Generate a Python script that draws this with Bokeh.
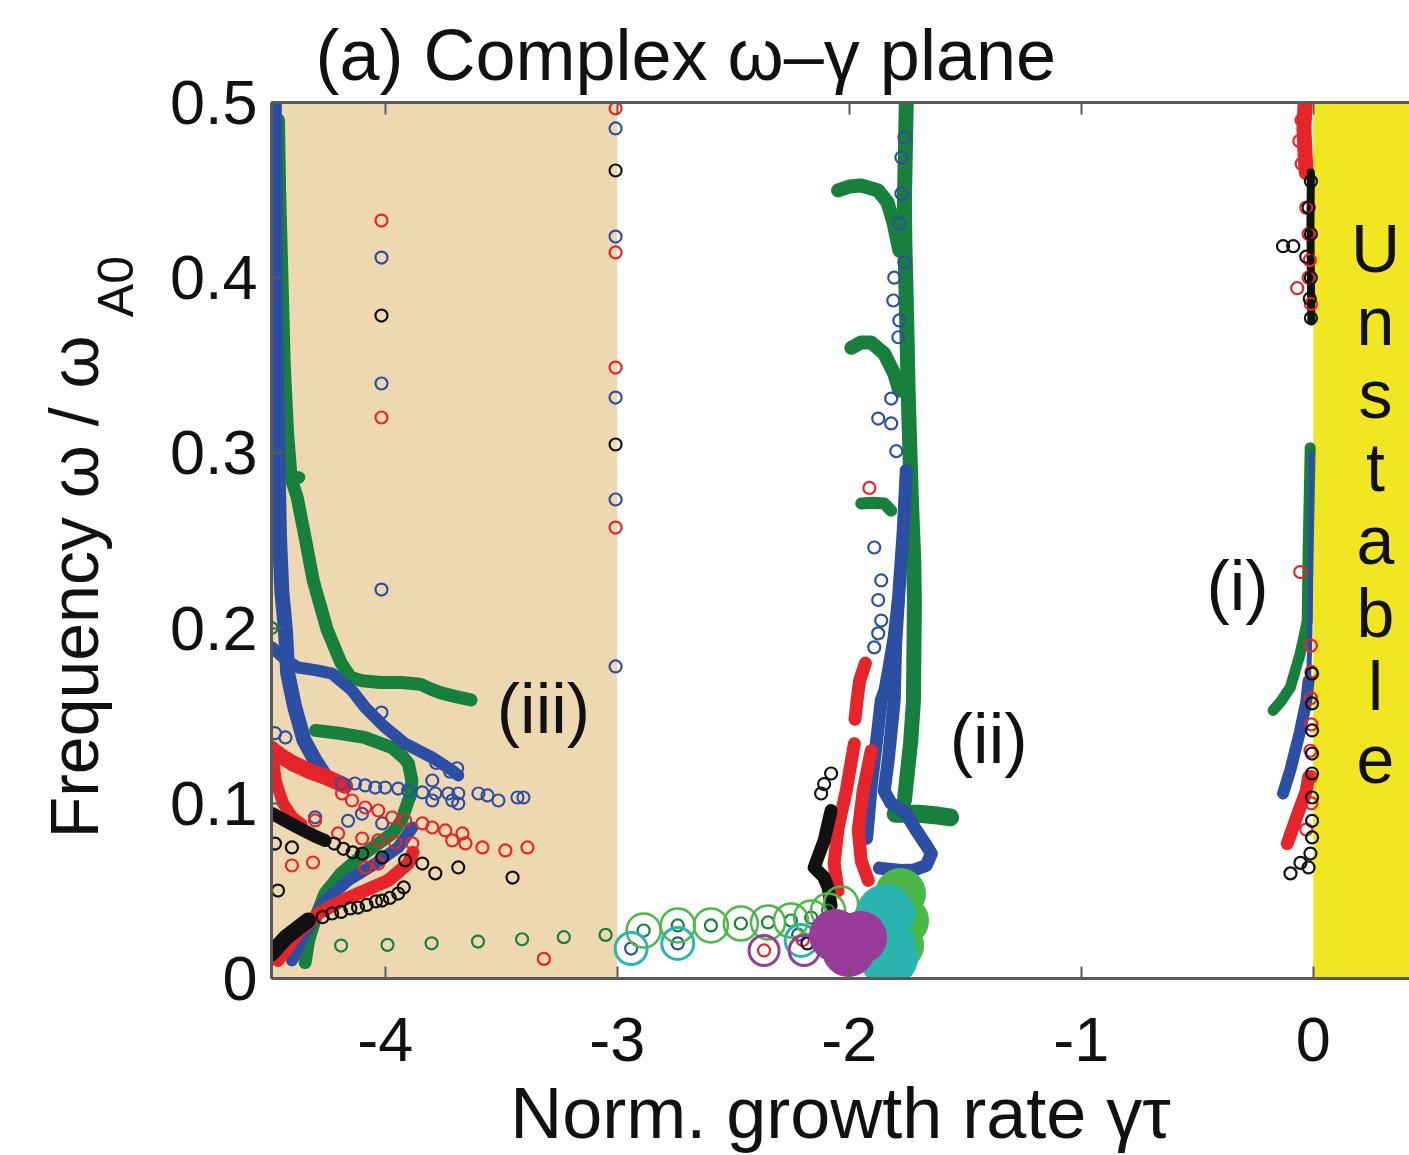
import math
from bokeh.plotting import figure
from bokeh.layouts import row
from bokeh.models import Range1d, FixedTicker, Label, LinearAxis
from bokeh.embed import file_html
from bokeh.resources import INLINE
from bokeh.core.properties import value

FONT = "Liberation Sans"

# ---------------- axes / ticks ----------------
x_ticks = [-4, -3, -2, -1, 0]
x_tick_labels = ["-4", "-3", "-2", "-1", "0"]
y_ticks = [0, 0.1, 0.2, 0.3, 0.4, 0.5]
y_tick_labels = ["0", "0.1", "0.2", "0.3", "0.4", "0.5"]

# shaded regions (x extents)
damped_band = [-4.6, -3.0]
unstable_band = [0.0, 0.6]

# ---------------- dense traces (left, region iii) ----------------
green_a_x = [-4.46, -4.455, -4.445, -4.435, -4.42, -4.405, -4.38, -4.35, -4.31, -4.25, -4.19, -4.15, -4.10, -4.02, -3.93, -3.85, -3.80, -3.76, -3.70, -3.63]
green_a_y = [0.49, 0.45, 0.40, 0.35, 0.31, 0.285, 0.275, 0.255, 0.227, 0.199, 0.18, 0.172, 0.170, 0.169, 0.169, 0.168, 0.165, 0.163, 0.161, 0.159]
green_spur_x = [-4.42, -4.37]
green_spur_y = [0.287, 0.286]
green_b_x = [-4.30, -4.20, -4.09, -3.97, -3.92, -3.90, -3.885, -3.89, -3.90, -3.93, -3.97, -4.03, -4.09, -4.19, -4.26, -4.30, -4.33, -4.345]
green_b_y = [0.1416, 0.140, 0.1376, 0.1318, 0.126, 0.1227, 0.113, 0.105, 0.1016, 0.090, 0.0828, 0.077, 0.0713, 0.060, 0.0485, 0.0348, 0.0217, 0.0091]

blue_a_x = [-4.478, -4.475, -4.474, -4.47, -4.465, -4.46, -4.455, -4.445, -4.43, -4.42, -4.39, -4.35, -4.30, -4.26]
blue_a_y = [0.50, 0.45, 0.40, 0.35, 0.31, 0.28, 0.25, 0.22, 0.199, 0.174, 0.155, 0.136, 0.124, 0.116]
blue_c_x = [-4.488, -4.43, -4.376, -4.30, -4.229, -4.143, -4.086, -4.0, -3.914, -3.797, -3.711, -3.685]
blue_c_y = [0.189, 0.182, 0.1775, 0.176, 0.174, 0.1644, 0.1547, 0.1433, 0.1341, 0.1261, 0.1187, 0.1159]
blue_d_x = [-4.402, -4.333, -4.259, -4.16, -4.043, -3.944, -3.883]
blue_d_y = [0.0103, 0.0291, 0.0445, 0.056, 0.0656, 0.0748, 0.0862]

red_a_x = [-4.497, -4.45, -4.397, -4.32, -4.251, -4.173]
red_a_y = [0.1318, 0.127, 0.1227, 0.118, 0.1147, 0.110]
red_c_x = [-4.49, -4.47, -4.44, -4.40, -4.36]
red_c_y = [0.13, 0.112, 0.100, 0.092, 0.088]
red_b_x = [-4.462, -4.376, -4.289, -4.186, -4.086, -3.987, -3.901, -3.88]
red_b_y = [0.0103, 0.0257, 0.0371, 0.0445, 0.0502, 0.0559, 0.0656, 0.072]

black_a_x = [-4.488, -4.43, -4.376, -4.30, -4.259]
black_a_y = [0.0942, 0.090, 0.0862, 0.081, 0.0788]
black_b_x = [-4.49, -4.428, -4.333]
black_b_y = [0.0143, 0.0234, 0.0331]

# ---------------- dense traces (middle, region ii) ----------------
green_m_x = [-1.754, -1.762, -1.760, -1.754, -1.745, -1.732, -1.722, -1.719, -1.723, -1.735, -1.745, -1.762]
green_m_y = [0.5, 0.444, 0.42, 0.387, 0.33, 0.273, 0.24, 0.216, 0.1587, 0.135, 0.1227, 0.1016]
green_foot_x = [-1.80, -1.70, -1.62, -1.565]
green_foot_y = [0.094, 0.094, 0.093, 0.092]
green_hook1_x = [-2.048, -2.00, -1.948, -1.875, -1.835, -1.810, -1.784]
green_hook1_y = [0.4498, 0.452, 0.4526, 0.4498, 0.443, 0.432, 0.4155]
green_hook2_x = [-1.991, -1.95, -1.905, -1.849, -1.806, -1.784]
green_hook2_y = [0.360, 0.363, 0.363, 0.3567, 0.3453, 0.3356]
green_hook3_x = [-1.948, -1.90, -1.849, -1.819]
green_hook3_y = [0.2711, 0.2715, 0.2711, 0.267]

blue_m1_x = [-1.754, -1.767, -1.788, -1.806, -1.825, -1.845, -1.862, -1.878, -1.892, -1.905, -1.918, -1.925]
blue_m1_y = [0.29, 0.2557, 0.216, 0.195, 0.18, 0.165, 0.1587, 0.14, 0.1244, 0.11, 0.0902, 0.08]
blue_m2_x = [-1.788, -1.800, -1.806, -1.82, -1.832, -1.849, -1.82, -1.76, -1.711, -1.668, -1.646, -1.668, -1.72, -1.775, -1.84, -1.87]
blue_m2_y = [0.216, 0.19, 0.1587, 0.14, 0.1244, 0.107, 0.100, 0.095, 0.0845, 0.076, 0.0713, 0.0645, 0.062, 0.0616, 0.0625, 0.063]

red_m1_x = [-1.93, -1.955, -1.965, -1.975]
red_m1_y = [0.180, 0.17, 0.16, 0.148]
red_m2_x = [-1.978, -2.013, -2.048, -2.065, -2.048]
red_m2_y = [0.134, 0.107, 0.086, 0.0656, 0.050]
red_m3_x = [-1.905, -1.94, -1.961, -1.948, -1.918]
red_m3_y = [0.130, 0.107, 0.0845, 0.067, 0.056]
black_m_x = [-2.078, -2.108, -2.151, -2.11, -2.091, -2.078]
black_m_y = [0.0959, 0.0788, 0.0634, 0.058, 0.052, 0.0417]

# ---------------- dense traces (right, region i) ----------------
green_r_x = [-0.013, -0.018, -0.022, -0.026, -0.04, -0.056, -0.099, -0.14, -0.173]
green_r_y = [0.303, 0.27, 0.244, 0.204, 0.195, 0.1855, 0.166, 0.158, 0.153]
blue_r1_x = [-0.008, -0.010, -0.012, -0.015, -0.02]
blue_r1_y = [0.30, 0.26, 0.22, 0.19, 0.17]
blue_r2_x = [-0.02, -0.03, -0.056, -0.099, -0.13]
blue_r2_y = [0.17, 0.158, 0.1415, 0.1187, 0.1056]
red_r_x = [-0.02, -0.03, -0.069, -0.112]
red_r_y = [0.115, 0.107, 0.093, 0.077]
red_r_top_x = [-0.035, -0.04, -0.035, -0.03]
red_r_top_y = [0.5, 0.485, 0.47, 0.46]
black_r_top_x = [-0.01, -0.012, -0.01, -0.008]
black_r_top_y = [0.46, 0.43, 0.40, 0.375]

# ---------------- individual eigenvalues (open circles) ----------------
red_pts_x = [-4.016, -4.016, -3.007, -3.007, -3.007, -3.007, -3.316,
             -4.186, -4.143, -4.086, -4.03, -3.97, -3.914, -3.84, -3.797, -3.741, -3.667,
             -4.302, -4.203, -4.099, -4.03, -3.957, -3.883, -3.711, -3.654, -3.581, -3.482, -3.387,
             -4.402, -4.311, -4.086, -4.03,
             -1.913, -2.20, -2.367,
             -0.069, -0.056, -0.01, -0.008, -0.01, -0.008, -0.012, -0.01, -0.008, -0.03,
             -0.05, -0.06, -0.05, -0.03, -0.02, -0.015, -0.02, -0.01]
red_pts_y = [0.4326, 0.3202, 0.4966, 0.4144, 0.3487, 0.2574, 0.0112,
             0.1056, 0.1016, 0.0976, 0.0959, 0.0919, 0.0902, 0.0885, 0.0862, 0.0845, 0.0828,
             0.0902, 0.0828, 0.0799, 0.0788, 0.0776, 0.0771, 0.0788, 0.0771, 0.0748, 0.0731, 0.0748,
             0.0645, 0.0662, 0.0634, 0.0656,
             0.280, 0.022, 0.016,
             0.394, 0.232, 0.19, 0.175, 0.16, 0.145, 0.13, 0.115, 0.10, 0.085,
             0.49, 0.478, 0.465, 0.44, 0.425, 0.41, 0.40, 0.385]

blue_pts_x = [-4.016, -4.016, -4.016, -4.016,
              -3.007, -3.007, -3.007, -3.007, -3.007,
              -4.186, -4.13, -4.086, -4.043, -4.0, -3.944, -3.901, -3.84, -3.784, -3.728, -3.685, -3.598, -3.559, -3.512, -3.43, -3.404, -3.797, -3.685,
              -4.302, -4.16, -4.10, -4.013, -3.797, -3.711, -4.475, -4.43, -3.78, -3.72, -3.69,
              -1.762, -1.775, -1.775, -1.784, -1.762, -1.806, -1.81, -1.784, -1.788, -1.819, -1.875, -1.819, -1.797,
              -1.892, -1.862, -1.875, -1.862, -1.875, -1.892,
              -2.94, -2.739, -2.22]
blue_pts_y = [0.4115, 0.3396, 0.222, 0.1518,
              0.4852, 0.4235, 0.3316, 0.2734, 0.1781,
              0.1113, 0.1113, 0.1102, 0.109, 0.109, 0.1084, 0.1073, 0.1062, 0.1056, 0.1056, 0.1056, 0.1056, 0.1045, 0.1016, 0.1033, 0.1033, 0.1016, 0.0999,
              0.092, 0.09, 0.094, 0.0885, 0.113, 0.1016, 0.14, 0.1376, 0.123, 0.118, 0.12,
              0.48, 0.4686, 0.448, 0.431, 0.4087, 0.40, 0.387, 0.3756, 0.366, 0.331, 0.3196, 0.3168, 0.301,
              0.246, 0.2272, 0.216, 0.2043, 0.197, 0.189,
              0.0171, 0.020, 0.025]

black_pts_x = [-4.016, -3.007, -3.007,
               -4.475, -4.402, -4.462, -4.099, -4.013, -3.914, -3.84, -3.784, -3.685, -3.451, -4.22, -4.18, -4.14,
               -4.27, -4.229, -4.19, -4.15, -4.117, -4.08, -4.04, -4.013, -3.98, -3.944, -3.92,
               -2.108, -2.121, -2.078, -2.18,
               -0.13, -0.086, -0.01, -0.02, -0.01, -0.03, -0.01, -0.015, -0.01,
               -0.005, -0.005, -0.005, -0.005, -0.005, -0.005, -0.005, -0.005, -0.012, -0.02, -0.055, -0.098]
black_pts_y = [0.3784, 0.4612, 0.3048,
               0.077, 0.0748, 0.0502, 0.0713, 0.0691, 0.0674, 0.0656, 0.060, 0.0634, 0.0576, 0.077, 0.074, 0.072,
               0.035, 0.0371, 0.038, 0.040, 0.0405, 0.042, 0.044, 0.0445, 0.046, 0.0485, 0.052,
               0.111, 0.1056, 0.117, 0.02,
               0.418, 0.418, 0.455, 0.44, 0.425, 0.412, 0.40, 0.388, 0.377,
               0.174, 0.157, 0.1416, 0.1284, 0.117, 0.1033, 0.090, 0.0805, 0.0713, 0.0634, 0.066, 0.060]

green_pts_x = [-4.49, -4.19, -3.99, -3.80, -3.60, -3.41, -3.23, -3.05, -2.886, -2.739, -2.596, -2.467, -2.350, -2.251, -2.164, -2.091]
green_pts_y = [0.2, 0.0188, 0.0192, 0.0201, 0.0211, 0.0224, 0.0236, 0.0249, 0.0274, 0.0303, 0.0303, 0.0314, 0.032, 0.0331, 0.0348, 0.0388]

# large markers near the (ii) cluster
lime_ring_x = [-2.886, -2.739, -2.596, -2.467, -2.350, -2.251, -2.164, -2.091, -2.035]
lime_ring_y = [0.0274, 0.0303, 0.0303, 0.0314, 0.032, 0.0331, 0.0348, 0.0388, 0.0428]
cyan_ring_x = [-2.94, -2.739, -2.207]
cyan_ring_y = [0.0171, 0.020, 0.0217]
purple_ring_x = [-2.367, -2.194]
purple_ring_y = [0.016, 0.016]
lime_blob_x = [-1.779, -1.766, -1.787]
lime_blob_y = [0.0485, 0.033, 0.019]
cyan_blob_x = [-1.843, -1.843, -1.83]
cyan_blob_y = [0.037, 0.020, 0.012]
purple_blob_x = [-2.059, -1.951, -2.003]
purple_blob_y = [0.0245, 0.0234, 0.016]

# ---------------- colours ----------------
C_GREEN = "#17803D"
C_BLUE = "#2D4FA3"
C_RED = "#E8242B"
C_BLACK = "#111111"
C_LIME = "#4CB848"
C_CYAN = "#2BB5B0"
C_PURPLE = "#9A3A9A"
C_TAN = "#EED8B2"
C_YELLOW = "#F0E622"
C_AXIS = "#5a5a5a"
C_TEXT = "#111111"

W = 1409
H = 1155
LEFT_W = 150   # strip holding the rotated y-axis title

p = figure(width=W - LEFT_W, height=H, x_range=Range1d(-4.49, 0.415), y_range=Range1d(0, 0.5),
           output_backend="svg", toolbar_location=None,
           min_border_left=271 - LEFT_W, min_border_right=0, min_border_top=102, min_border_bottom=177)
p.outline_line_color = None
p.grid.visible = False
p.background_fill_color = "white"
p.border_fill_color = "white"

# shaded regions
p.quad(left=[damped_band[0]], right=[damped_band[1]], bottom=[0], top=[0.5], fill_color=C_TAN, line_color=None)
p.quad(left=[unstable_band[0]], right=[unstable_band[1]], bottom=[0], top=[0.5], fill_color=C_YELLOW, line_color=None)

def band(xs, ys, color, w):
    p.line(xs, ys, line_width=w, line_color=color, line_cap="round", line_join="round")

# green first
band(green_a_x, green_a_y, C_GREEN, 13)
band(green_spur_x, green_spur_y, C_GREEN, 12)
band(green_b_x, green_b_y, C_GREEN, 13)
band(green_m_x, green_m_y, C_GREEN, 15)
band(green_foot_x, green_foot_y, C_GREEN, 18)
band(green_hook1_x, green_hook1_y, C_GREEN, 14)
band(green_hook2_x, green_hook2_y, C_GREEN, 14)
band(green_hook3_x, green_hook3_y, C_GREEN, 12)
band(green_r_x, green_r_y, C_GREEN, 11)
# blue
band(blue_a_x, blue_a_y, C_BLUE, 15)
band(blue_c_x, blue_c_y, C_BLUE, 12)
band(blue_d_x, blue_d_y, C_BLUE, 12)
band(blue_m1_x, blue_m1_y, C_BLUE, 13)
band(blue_m2_x, blue_m2_y, C_BLUE, 13)
band(blue_r1_x, blue_r1_y, C_BLUE, 5)
band(blue_r2_x, blue_r2_y, C_BLUE, 12)
# red
band(red_a_x, red_a_y, C_RED, 16)
band(red_c_x, red_c_y, C_RED, 12)
band(red_b_x, red_b_y, C_RED, 13)
band(red_m1_x, red_m1_y, C_RED, 13)
band(red_m2_x, red_m2_y, C_RED, 13)
band(red_m3_x, red_m3_y, C_RED, 13)
band(red_r_x, red_r_y, C_RED, 13)
band(red_r_top_x, red_r_top_y, C_RED, 15)
# black
band(black_a_x, black_a_y, C_BLACK, 13)
band(black_b_x, black_b_y, C_BLACK, 16)
band(black_m_x, black_m_y, C_BLACK, 13)
band(black_r_top_x, black_r_top_y, C_BLACK, 8)

def rings(xs, ys, color, size, lw):
    p.scatter(xs, ys, marker="circle", size=size, fill_color=None, line_color=color, line_width=lw)

rings(green_pts_x, green_pts_y, C_GREEN, 12, 2.2)
rings(blue_pts_x, blue_pts_y, C_BLUE, 12, 2.2)
rings(red_pts_x, red_pts_y, C_RED, 12, 2.2)
rings(black_pts_x, black_pts_y, C_BLACK, 12, 2.2)
rings(lime_ring_x, lime_ring_y, C_LIME, 34, 2.5)
rings(cyan_ring_x, cyan_ring_y, C_CYAN, 32, 3)
rings(purple_ring_x, purple_ring_y, C_PURPLE, 30, 3)

p.scatter(lime_blob_x, lime_blob_y, marker="circle", size=50, fill_color=C_LIME, line_color=C_LIME)
p.scatter(cyan_blob_x, cyan_blob_y, marker="circle", size=58, fill_color=C_CYAN, line_color=C_CYAN)
p.scatter(purple_blob_x, purple_blob_y, marker="circle", size=52, fill_color=C_PURPLE, line_color=C_PURPLE)

# ---------------- axes ----------------
def style_axis(ax):
    ax.axis_line_color = C_AXIS
    ax.axis_line_width = 3
    ax.major_tick_line_color = C_AXIS
    ax.major_tick_line_width = 2
    ax.major_tick_in = 12
    ax.major_tick_out = 0
    ax.minor_tick_line_color = None
    ax.major_label_text_font = FONT
    ax.major_label_text_font_size = "63px"
    ax.major_label_text_color = C_TEXT

xa = p.xaxis[0]
xa.ticker = FixedTicker(ticks=x_ticks)
xa.major_label_overrides = {t: l for t, l in zip(x_ticks, x_tick_labels)}
style_axis(xa)
xa.major_label_standoff = 39
xa.axis_label = "Norm. growth rate \u03b3\u03c4"
xa.axis_label_text_font = FONT
xa.axis_label_text_font_size = "72px"
xa.axis_label_text_font_style = "normal"
xa.axis_label_text_color = C_TEXT
xa.axis_label_standoff = 9

ya = p.yaxis[0]
ya.ticker = FixedTicker(ticks=y_ticks)
ya.major_label_overrides = {t: l for t, l in zip(y_ticks, y_tick_labels)}
style_axis(ya)
ya.major_label_standoff = 14

top = LinearAxis(ticker=FixedTicker(ticks=x_ticks))
style_axis(top)
top.major_label_text_font_size = "1px"
top.major_label_text_color = None
top.major_label_standoff = 0
p.add_layout(top, "above")

p.title.text = "(a) Complex \u03c9\u2013\u03b3 plane"
p.title.text_font = FONT
p.title.text_font_size = "72px"
p.title.text_font_style = "normal"
p.title.text_color = C_TEXT
p.title.align = "left"
p.title.vertical_align = "bottom"
p.title.offset = 44
p.title.standoff = 16

# ---------------- texts inside the frame ----------------
def lab(x, y, text, size):
    p.add_layout(Label(x=x, y=y, text=text, text_font=FONT, text_font_size=size,
                       text_align="center", text_baseline="alphabetic", text_color=C_TEXT))

lab(-0.326, 0.224, "(i)", "70px")
lab(-1.399, 0.1367, "(ii)", "70px")
lab(-3.318, 0.1538, "(iii)", "70px")

unstable_letters = list("Unstable")
for i, ch in enumerate(unstable_letters):
    lab(0.2686, 0.4167 - 0.04167 * i, ch, "68px")

# ---------------- y-axis title strip (pixel coordinates, origin bottom-left) ----------------
q = figure(width=LEFT_W, height=H, x_range=Range1d(0, LEFT_W), y_range=Range1d(0, H),
           output_backend="svg", toolbar_location=None, x_axis_location=None, y_axis_location=None,
           min_border=0)
q.outline_line_color = None
q.grid.visible = False
q.text(x=[73], y=[H - 307], text=["Frequency \u03c9 / \u03c9"], angle=math.pi / 2,
       text_align="right", text_baseline="alphabetic", text_font=value(FONT),
       text_font_size="68px", text_color=C_TEXT)
q.text(x=[115], y=[H - 283], text=["A0"], angle=math.pi / 2,
       text_align="left", text_baseline="alphabetic", text_font=value(FONT),
       text_font_size="50px", text_color=C_TEXT)

layout = row(q, p)
open("out.html", "w").write(file_html(layout, INLINE))
